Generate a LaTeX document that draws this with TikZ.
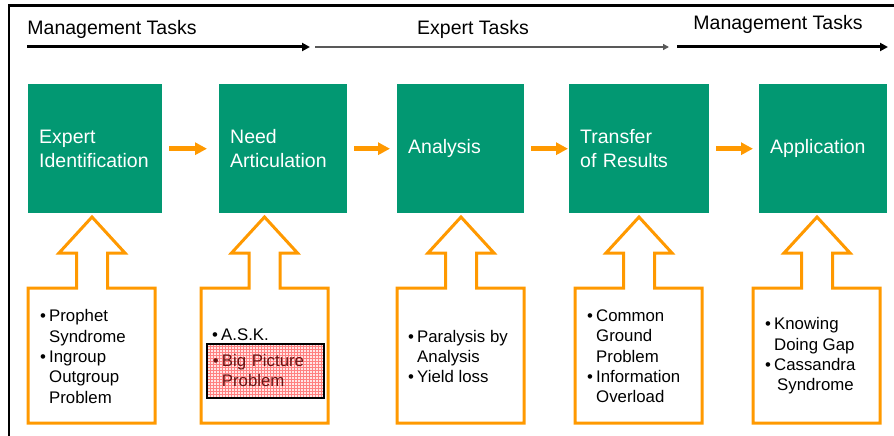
\documentclass[tikz,border=0pt]{standalone}
\usepackage{fontspec}
\setmainfont{Liberation Sans}
\usetikzlibrary{arrows.meta,patterns}
\definecolor{stepgreen}{RGB}{2,152,114}
\definecolor{callorange}{RGB}{255,153,0}
\definecolor{issuered}{RGB}{105,20,20}
\newcommand{\itm}{\makebox[9pt][l]{\textbullet}}
\newcommand{\cnt}{\hspace*{9pt}}
\tikzset{
  phase/.style={fill=stepgreen, text=white, anchor=north west, align=left,
                inner xsep=11pt, inner ysep=0pt, minimum height=129pt,
                font=\fontsize{19.5}{24}\selectfont},
  flow/.style={-{Triangle[length=12pt,width=12pt]}, line width=4.5pt, draw=callorange},
  callout/.style={draw=callorange, line width=3pt, fill=white, line join=miter},
  issues/.style={anchor=west, align=left, inner sep=0pt,
                 font=\fontsize{16.8}{20.3}\selectfont},
  bigpic/.style={issues, anchor=north west, draw=black, line width=1.8pt,
                 pattern=grid, pattern color=red!50, preaction={fill=red!10},
                 text=issuered, inner xsep=6pt, minimum height=54pt,
                 font=\fontsize{16.8}{20}\selectfont},
  tasklabel/.style={font=\fontsize{19.5}{22}\selectfont},
  taskarrow/.style={-{Triangle[length=8pt,width=8pt]}, line width=3pt},
  expertarrow/.style={-{Triangle[length=6pt,width=6pt]}, line width=1.3pt, draw=black!65},
}

\begin{document}
\begin{tikzpicture}[x=1pt, y=-1pt]
\useasboundingbox (0,0) rectangle (894,436);

% ================= frame =================
\draw[line width=2.5pt] (9,436) -- (9,5.5) -- (894,5.5);

% ================= task bands =================
\node[tasklabel] (mgl) at (112,29) {Management Tasks};
\node[tasklabel] (exl) at (473,29) {Expert Tasks};
\node[tasklabel] (mgr) at (778,24) {Management Tasks};

\coordinate (ms) at (27,47);  \coordinate (me) at (310,47);
\coordinate (es) at (315,47); \coordinate (ee) at (669,47);
\coordinate (rs) at (677,47); \coordinate (re) at (888,47);
\draw[taskarrow] (ms) -- (me);
\draw[expertarrow] (es) -- (ee);
\draw[taskarrow] (rs) -- (re);

% ================= process steps =================
\node[phase, text width=112pt] (eid) at (28,84) {Expert\\Identification};
\node[phase, text width=106pt] (nda) at (219,84) {Need\\Articulation};
\node[phase, text width=105pt] (ana) at (397,84) {Analysis};
\node[phase, text width=118pt] (tor) at (569,84) {Transfer\\of Results};
\node[phase, text width=106pt] (app) at (759,84) {Application};

\foreach \a/\b/\e in {eid/nda/12, nda/ana/7, ana/tor/1, tor/app/6}
  \draw[flow] ([xshift=7pt]\a.east) -- ([xshift=-\e pt]\b.west);

% ================= barriers (block arrows) =================
\foreach \l/\c in {28/92, 201/264.5, 397/461, 575/639, 753/817}
  \draw[callout] (\l,423) -- (\l,288) -- (\c-15.5,288) -- (\c-15.5,253)
    -- (\c-33,253) -- (\c,217) -- (\c+33,253) -- (\c+15.5,253)
    -- (\c+15.5,288) -- (\l+127,288) -- (\l+127,423) -- cycle;

\node[issues] (bra) at (40,356.5)
  {\itm Prophet\\\cnt Syndrome\\\itm Ingroup\\\cnt Outgroup\\\cnt Problem};
\node[issues] (brb) at (212,335) {\itm A.S.K.};
\node[bigpic, text width=105pt] (bpp) at (206,343) {\itm Big Picture\\\cnt Problem};
\node[issues] (brc) at (408,356.5)
  {\itm Paralysis by\\\cnt Analysis\\\itm Yield loss};
\node[issues] (brd) at (587,356.5)
  {\itm Common\\\cnt Ground\\\cnt Problem\\\itm Information\\\cnt Overload};
\node[issues] (bre) at (765,356)
  {\itm Knowing\\\cnt Doing Gap\\\itm Cassandra\\\cnt\hspace{3pt}Syndrome};
\end{tikzpicture}
\end{document}
